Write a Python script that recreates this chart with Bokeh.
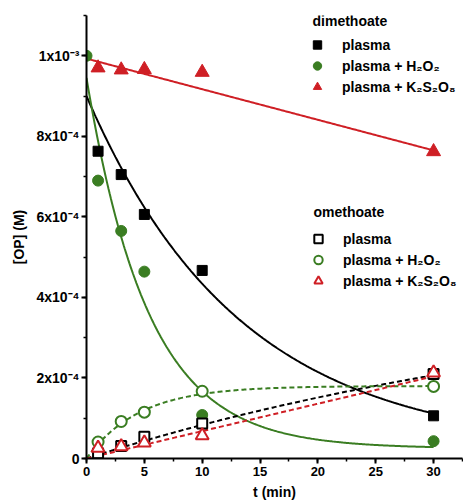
import numpy as np
from bokeh.plotting import figure
from bokeh.models import (Range1d, FixedTicker, CustomJSTickFormatter, Legend,
                          LegendItem, Label)
from bokeh.embed import file_html
from bokeh.resources import INLINE

# ---------------- data ----------------
t_min = [1, 3, 5, 10, 30]
t_min_h2o2 = [0, 1, 3, 5, 10, 30]

dim_plasma = [7.63e-4, 7.05e-4, 6.06e-4, 4.67e-4, 1.06e-4]
dim_h2o2 = [1.00e-3, 6.90e-4, 5.65e-4, 4.64e-4, 1.08e-4, 4.3e-5]
dim_k2s2o8 = [9.70e-4, 9.65e-4, 9.66e-4, 9.59e-4, 7.62e-4]

om_plasma = [1.3e-5, 3.1e-5, 5.4e-5, 8.7e-5, 2.10e-4]
om_h2o2 = [4.1e-5, 9.2e-5, 1.15e-4, 1.67e-4, 1.79e-4]
om_k2s2o8 = [2.6e-5, 3.0e-5, 3.9e-5, 5.7e-5, 2.13e-4]

# fitted-curve parameters (read from the drawn fits)
fit_dim_plasma = dict(y0=2.0e-5, a=8.8e-4, k=0.0754)
fit_dim_h2o2 = dict(y0=2.5e-5, a=9.2e-4, k=0.187)
fit_dim_k2s2o8 = dict(b=9.93e-4, m=-7.6e-6)
fit_om_plasma = dict(a=4.5e-4, k=0.0205)
fit_om_h2o2 = dict(a=1.8e-4, k=0.22)
fit_om_k2s2o8 = dict(m=6.8e-6)

x_major = [0, 5, 10, 15, 20, 25, 30]
x_minor = [0, 2.5, 5, 7.5, 10, 12.5, 15, 17.5, 20, 22.5, 25, 27.5, 30, 32.5]
y_major = [0, 2e-4, 4e-4, 6e-4, 8e-4, 1e-3]
y_minor = [0, 1e-4, 2e-4, 3e-4, 4e-4, 5e-4, 6e-4, 7e-4, 8e-4, 9e-4, 1e-3, 1.1e-3]

legend_dim = ["plasma", "plasma + H₂O₂", "plasma + K₂S₂O₈"]
legend_om = ["plasma", "plasma + H₂O₂", "plasma + K₂S₂O₈"]

# ---------------- styling ----------------
FONT = "Liberation Sans"
BLACK = "#000000"
GREEN = "#3a7d22"
RED = "#cf1f25"

p = figure(width=463, height=502, output_backend="svg", toolbar_location=None,
           x_range=Range1d(0, 32.5), y_range=Range1d(0, 1.1e-3),
           min_border_left=86, min_border_right=1, min_border_top=15,
           min_border_bottom=43)
p.outline_line_color = None
p.xgrid.visible = False
p.ygrid.visible = False
p.background_fill_color = "white"
p.border_fill_color = "white"

tt = np.linspace(0, 30, 300)

# fitted curves
p.line(tt, fit_dim_plasma["y0"] + fit_dim_plasma["a"] * np.exp(-fit_dim_plasma["k"] * tt),
       line_color=BLACK, line_width=2)
p.line(tt, fit_dim_h2o2["y0"] + fit_dim_h2o2["a"] * np.exp(-fit_dim_h2o2["k"] * tt),
       line_color=GREEN, line_width=2)
p.line(tt, fit_dim_k2s2o8["b"] + fit_dim_k2s2o8["m"] * tt,
       line_color=RED, line_width=2)
p.line(tt, fit_om_plasma["a"] * (1 - np.exp(-fit_om_plasma["k"] * tt)),
       line_color=BLACK, line_width=2, line_dash="5 3")
p.line(tt, fit_om_h2o2["a"] * (1 - np.exp(-fit_om_h2o2["k"] * tt)),
       line_color=GREEN, line_width=2, line_dash="5 3")
p.line(tt, fit_om_k2s2o8["m"] * tt,
       line_color=RED, line_width=2, line_dash="5 3")

# dimethoate (filled)
r1 = p.scatter(t_min, dim_plasma, marker="square", size=10, fill_color=BLACK, line_color=BLACK)
r2 = p.scatter(t_min_h2o2, dim_h2o2, marker="circle", size=11, fill_color=GREEN, line_color=GREEN)
r3 = p.scatter(t_min, dim_k2s2o8, marker="triangle", size=14, fill_color=RED, line_color=RED)

# omethoate (open)
r4 = p.scatter(t_min, om_plasma, marker="square", size=10, fill_color="white", line_color=BLACK, line_width=2)
r5 = p.scatter(t_min, om_h2o2, marker="circle", size=11, fill_color="white", line_color=GREEN, line_width=2)
r6 = p.scatter(t_min, om_k2s2o8, marker="triangle", size=13, fill_color="white", line_color=RED, line_width=2)

# axes
for ax in (p.xaxis[0], p.yaxis[0]):
    ax.axis_line_width = 2
    ax.major_tick_line_width = 2
    ax.minor_tick_line_width = 1.5
    ax.major_tick_out = 5
    ax.major_tick_in = 0
    ax.minor_tick_out = 3
    ax.minor_tick_in = 0
    ax.major_label_text_font = FONT
    ax.major_label_text_font_style = "bold"
    ax.major_label_text_color = BLACK
    ax.axis_label_text_font = FONT
    ax.axis_label_text_font_style = "bold"
    ax.axis_label_text_font_size = "14px"
    ax.axis_label_text_color = BLACK

p.xaxis.major_label_text_font_size = "13px"
p.yaxis.major_label_text_font_size = "14px"
p.xaxis.ticker = FixedTicker(ticks=x_major, minor_ticks=x_minor)
p.yaxis.ticker = FixedTicker(ticks=y_major, minor_ticks=y_minor)
p.yaxis.formatter = CustomJSTickFormatter(code="""
const e = Math.round(tick * 1e4);
if (e === 0) { return "0"; }
if (e === 10) { return "1x10\u207B\u00B3"; }
return e + "x10\u207B\u2074";
""")
p.xaxis.axis_label = "t (min)"
p.yaxis.axis_label = "[OP] (M)"
p.xaxis.major_label_standoff = 3
p.xaxis.axis_label_standoff = 5
p.yaxis.major_label_standoff = 2
p.yaxis.axis_label_standoff = 6

# legends
def make_legend(renderers, labels, loc):
    lg = Legend(items=[LegendItem(label=l, renderers=[r]) for l, r in zip(labels, renderers)],
                location=loc, glyph_width=28, glyph_height=21, label_height=21,
                spacing=0, padding=0, margin=0, label_standoff=11,
                background_fill_alpha=0, border_line_alpha=0,
                label_text_font=FONT, label_text_font_style="bold",
                label_text_font_size="14px", label_text_color=BLACK)
    return lg

p.add_layout(make_legend([r1, r2, r3], legend_dim, (217, 361)))
p.add_layout(make_legend([r4, r5, r6], legend_om, (218, 167)))

p.add_layout(Label(x=226, y=438, x_units="screen", y_units="screen", text="dimethoate",
                   text_font=FONT, text_font_style="bold", text_font_size="14px",
                   text_baseline="middle", text_color=BLACK))
p.add_layout(Label(x=227, y=247, x_units="screen", y_units="screen", text="omethoate",
                   text_font=FONT, text_font_style="bold", text_font_size="14px",
                   text_baseline="middle", text_color=BLACK))

open("out.html", "w").write(file_html(p, INLINE))
